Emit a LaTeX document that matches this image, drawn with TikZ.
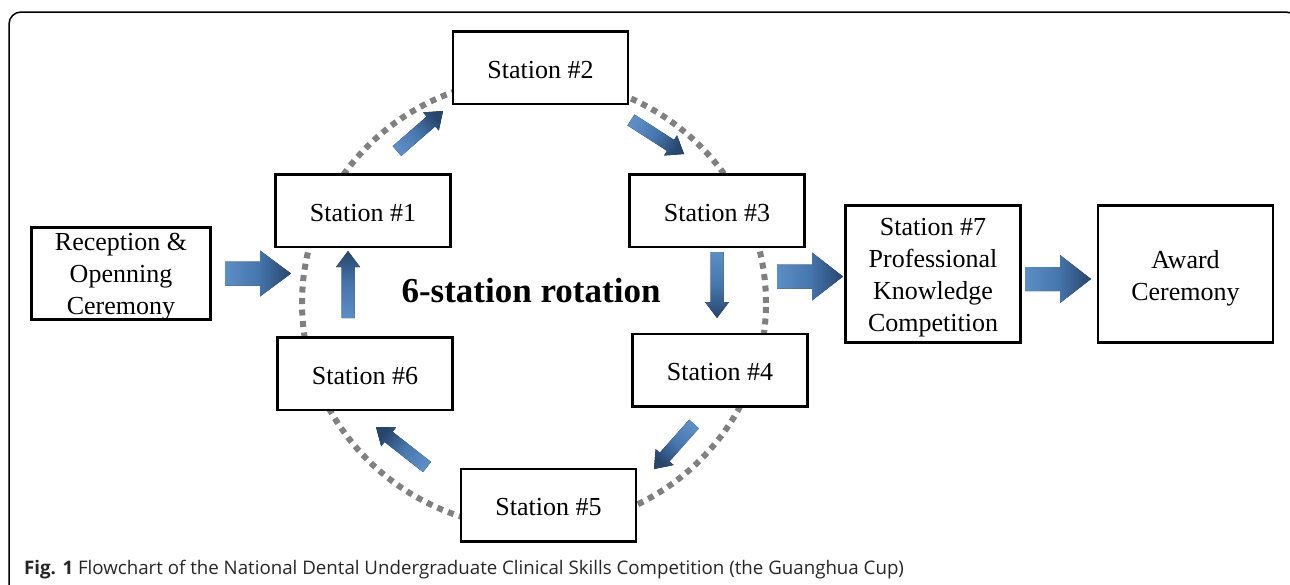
\documentclass[tikz,border=0pt]{standalone}
\usepackage{fontspec}
\setmainfont{Liberation Serif}
\newfontfamily\capfont{Open Sans}
\usetikzlibrary{calc}
\definecolor{arrlight}{RGB}{92,142,198}
\definecolor{arrmid}{RGB}{70,118,174}
\definecolor{arrdark}{RGB}{38,70,108}
\definecolor{dotgray}{RGB}{128,128,128}
\tikzset{
  stationbox/.style={draw, fill=white, line width=2.5pt, minimum width=175,
    text height=46.75pt, text depth=25.75pt,
    align=center, inner sep=0pt, font=\fontsize{26}{32}\selectfont},
  arrowfill/.style={bottom color=arrlight, top color=arrdark, middle color=arrmid},
  ringstyle/.style={draw=dotgray, line width=6pt, dash pattern=on 6pt off 5.5pt},
}
% tail, tip, shaft half width, head half width, head length, shading angle
\newcommand{\blockarr}[6]{%
  \coordinate (hb) at ($(#2)!#5pt!(#1)$);
  \fill[arrowfill, shading angle=#6]
    ($(#1)!#3pt!90:(#2)$) -- ($(hb)!#3pt!90:(#2)$) -- ($(hb)!#4pt!90:(#2)$) -- (#2)
    -- ($(hb)!#4pt!-90:(#2)$) -- ($(hb)!#3pt!-90:(#2)$) -- ($(#1)!#3pt!-90:(#2)$) -- cycle;
}
\begin{document}
\begin{tikzpicture}[x=1pt,y=1pt]
\useasboundingbox (0,0) rectangle (1290,-584);
% outer frame
\draw[line width=1.5pt, rounded corners=12pt] (9,-620) -- (9,-12) -- (1298,-12) -- (1298,-620);
% dotted ring
\draw[ringstyle] (534,-303) ellipse [x radius=232, y radius=225];
% stations
\node[stationbox] (s2) at (540.5,-67.5) {Station \#2};
\node[stationbox] (s1) at (363,-210.5) {Station \#1};
\node[stationbox] (s3) at (717,-210.5) {Station \#3};
\node[stationbox] (s6) at (365,-373.5) {Station \#6};
\node[stationbox] (s4) at (720,-370) {Station \#4};
\node[stationbox] (s5) at (548.5,-505) {Station \#5};
\node[stationbox, minimum width=179, text height=87pt, text depth=5pt] (rec) at (121,-273.5) {Reception \&\\Openning\\Ceremony};
\node[stationbox, text height=126pt, text depth=11pt] (s7) at (933,-274) {Station \#7\\Professional\\Knowledge\\Competition};
\node[stationbox, text height=94.6pt, text depth=42.4pt] (aw) at (1185.5,-274) {Award\\Ceremony};
\node[font=\bfseries\fontsize{35}{40}\selectfont] (rot) at (531,-291) {6-station rotation};
% arrow end points
\coordinate (a1t) at (225,-273.5); \coordinate (a1h) at (291,-273.5);
\coordinate (a2t) at (348,-318);   \coordinate (a2h) at (348,-251);
\coordinate (a3t) at (397,-151);   \coordinate (a3h) at (443,-111);
\coordinate (a4t) at (631,-120);   \coordinate (a4h) at (684,-154);
\coordinate (a5t) at (717,-252);   \coordinate (a5h) at (717,-318);
\coordinate (a6t) at (694,-424);   \coordinate (a6h) at (654,-469);
\coordinate (a7t) at (427,-467);   \coordinate (a7h) at (376,-427);
\coordinate (a8t) at (777,-276.5); \coordinate (a8h) at (843,-276.5);
\coordinate (a9t) at (1025,-279);  \coordinate (a9h) at (1091,-279);
\blockarr{a1t}{a1h}{12}{23}{31}{-90}
\blockarr{a2t}{a2h}{6.5}{12}{16}{0}
\blockarr{a3t}{a3h}{6.5}{12}{16}{-49}
\blockarr{a4t}{a4h}{6.5}{12}{16}{-122}
\blockarr{a5t}{a5h}{6.5}{12}{16}{180}
\blockarr{a6t}{a6h}{6.5}{12}{16}{138}
\blockarr{a7t}{a7h}{6.5}{12}{16}{52}
\blockarr{a8t}{a8h}{12}{24}{31}{-90}
\blockarr{a9t}{a9h}{12}{24}{31}{-90}
% caption
\node[anchor=base west, inner sep=0pt, text=black!85, font=\capfont\fontsize{18.7}{22}\selectfont] (cap) at (24,-574)
  {\textbf{Fig. 1} Flowchart of the National Dental Undergraduate Clinical Skills Competition (the Guanghua Cup)};
\end{tikzpicture}
\end{document}
